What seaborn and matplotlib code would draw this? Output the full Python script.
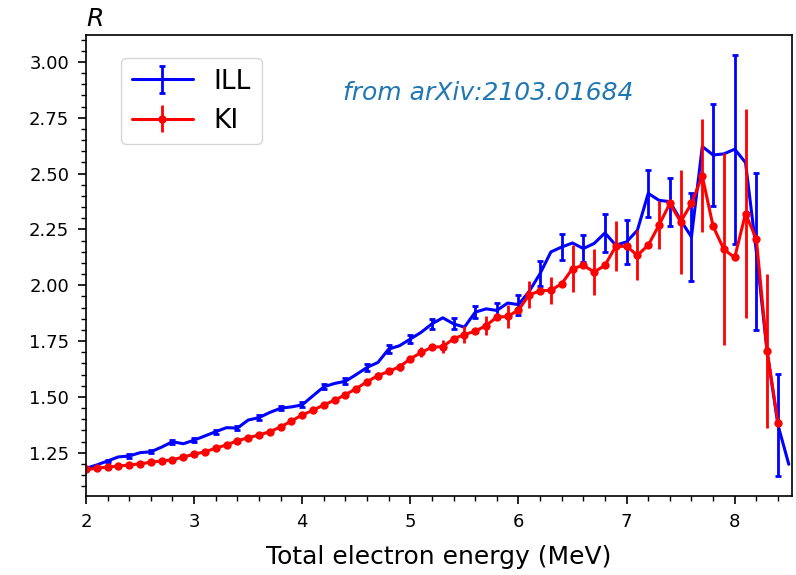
import numpy as np
import pandas as pd
import seaborn as sns
import matplotlib.pyplot as plt
from matplotlib.ticker import MultipleLocator

# energy grid (MeV), 0.1 MeV bins
ill_energy = np.round(np.arange(2.0, 8.55, 0.1), 1)
ki_energy = np.round(np.arange(2.0, 8.45, 0.1), 1)

ill_ratio = [1.180, 1.195, 1.213, 1.231, 1.235, 1.250, 1.254, 1.275, 1.299, 1.290,
             1.306, 1.325, 1.344, 1.362, 1.360, 1.396, 1.407, 1.430, 1.449, 1.455,
             1.464, 1.505, 1.545, 1.560, 1.570, 1.600, 1.632, 1.654, 1.714, 1.729,
             1.759, 1.789, 1.827, 1.854, 1.827, 1.812, 1.879, 1.894, 1.887, 1.920,
             1.913, 1.973, 2.052, 2.149, 2.171, 2.189, 2.164, 2.187, 2.234, 2.179,
             2.194, 2.246, 2.411, 2.380, 2.374, 2.291, 2.216, 2.621, 2.583, 2.588,
             2.609, 2.549, 2.150, 1.700, 1.374, 1.198]
ill_err = [0.006, 0.006, 0.006, 0.006, 0.007, 0.007, 0.007, 0.007, 0.008, 0.008,
           0.008, 0.008, 0.009, 0.009, 0.009, 0.009, 0.010, 0.010, 0.010, 0.010,
           0.011, 0.011, 0.012, 0.012, 0.013, 0.014, 0.016, 0.017, 0.018, 0.019,
           0.020, 0.021, 0.022, 0.023, 0.025, 0.026, 0.028, 0.030, 0.033, 0.038,
           0.045, 0.050, 0.055, 0.055, 0.056, 0.058, 0.060, 0.070, 0.084, 0.090,
           0.097, 0.100, 0.105, 0.106, 0.107, 0.150, 0.197, 0.210, 0.228, 0.320,
           0.423, 0.390, 0.352, 0.290, 0.228, 0.200]

ki_ratio = [1.175, 1.180, 1.186, 1.190, 1.195, 1.200, 1.207, 1.213, 1.218, 1.231,
            1.243, 1.254, 1.270, 1.285, 1.303, 1.317, 1.329, 1.344, 1.365, 1.392,
            1.419, 1.440, 1.464, 1.485, 1.510, 1.537, 1.568, 1.595, 1.614, 1.635,
            1.670, 1.699, 1.722, 1.725, 1.760, 1.779, 1.794, 1.819, 1.857, 1.860,
            1.889, 1.957, 1.975, 1.977, 2.007, 2.074, 2.089, 2.059, 2.089, 2.174,
            2.174, 2.134, 2.179, 2.269, 2.366, 2.284, 2.366, 2.489, 2.264, 2.160,
            2.124, 2.321, 2.206, 1.704, 1.385]
ki_err = [0.004, 0.004, 0.004, 0.004, 0.005, 0.005, 0.005, 0.005, 0.005, 0.005,
          0.006, 0.006, 0.006, 0.006, 0.007, 0.007, 0.008, 0.008, 0.009, 0.009,
          0.010, 0.010, 0.011, 0.011, 0.012, 0.013, 0.014, 0.015, 0.017, 0.018,
          0.020, 0.022, 0.025, 0.028, 0.032, 0.037, 0.040, 0.042, 0.046, 0.050,
          0.055, 0.060, 0.060, 0.060, 0.080, 0.105, 0.105, 0.105, 0.110, 0.112,
          0.112, 0.112, 0.110, 0.106, 0.150, 0.232, 0.240, 0.253, 0.330, 0.430,
          0.450, 0.467, 0.400, 0.345, 0.300]

ill = pd.DataFrame({"energy": ill_energy, "ratio": ill_ratio, "err": ill_err})
ki = pd.DataFrame({"energy": ki_energy, "ratio": ki_ratio, "err": ki_err})

sns.set_style("ticks")
plt.rcParams.update({"text.color": "black", "axes.labelcolor": "black",
                     "xtick.color": "black", "ytick.color": "black",
                     "axes.edgecolor": "black"})

fig, ax = plt.subplots(figsize=(7.96, 5.75), dpi=100)
fig.subplots_adjust(left=0.108, right=0.995, top=0.939, bottom=0.137)

sns.lineplot(data=ill, x="energy", y="ratio", color="blue", lw=2.2, ax=ax)
ill_line = ax.lines[-1]
ill_bars = ax.errorbar(ill["energy"], ill["ratio"], yerr=ill["err"], fmt="none",
                       ecolor="blue", elinewidth=2, capsize=2, capthick=2, errorevery=(0, 2))

sns.lineplot(data=ki, x="energy", y="ratio", color="red", lw=2.2, marker="o",
             markersize=6, markeredgewidth=0, ax=ax)
ki_line = ax.lines[-1]
ki_bars = ax.errorbar(ki["energy"], ki["ratio"], yerr=ki["err"], fmt="none",
                      ecolor="red", elinewidth=2, capsize=0, errorevery=(1, 2))

ax.set_xlim(2, 8.53)
ax.set_ylim(1.055, 3.12)
ax.xaxis.set_major_locator(MultipleLocator(1))
ax.xaxis.set_minor_locator(MultipleLocator(0.2))
ax.yaxis.set_major_locator(MultipleLocator(0.25))
ax.yaxis.set_minor_locator(MultipleLocator(0.05))
ax.yaxis.set_major_formatter(plt.FormatStrFormatter("%.2f"))

ax.tick_params(which="major", direction="out", length=6, width=1.2, labelsize=13, pad=6)
ax.tick_params(which="minor", direction="out", length=3.5, width=1)
for s in ax.spines.values():
    s.set_linewidth(1.2)
    s.set_color("black")

ax.set_xlabel("Total electron energy (MeV)", fontsize=18, labelpad=10)
ax.set_ylabel("")
ax.text(0.0, 1.02, "$R$", transform=ax.transAxes, fontsize=18, ha="left", va="baseline")

ax.text(0.364, 0.874, "from arXiv:2103.01684", transform=ax.transAxes, fontsize=18,
        style="italic", color="tab:blue", ha="left", va="center")

ax.legend([(ill_line, ill_bars), (ki_line, ki_bars)], ["ILL", "KI"],
          loc="upper left", bbox_to_anchor=(0.05, 0.95), borderaxespad=0,
          fontsize=19, handlelength=2.3, frameon=True)

plt.savefig("out.png", dpi=100)
